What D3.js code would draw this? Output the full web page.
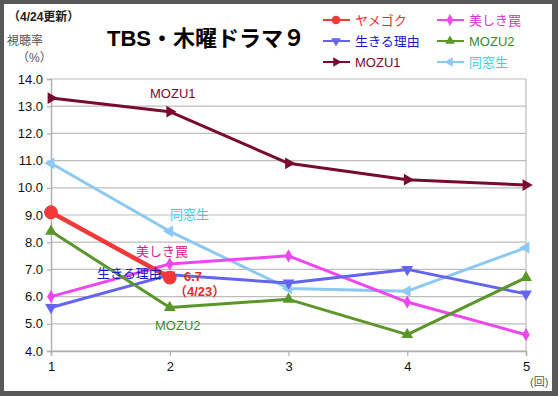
<!DOCTYPE html>
<html><head><meta charset="utf-8">
<script src="https://cdn.jsdelivr.net/npm/d3@7"></script>
<style>
html,body{margin:0;padding:0;background:#fff;}
svg{display:block;}
</style></head>
<body>
<svg id="c" width="558" height="396"></svg>
<script>
const episodes = [1, 2, 3, 4, 5];
const yTicks = [4, 5, 6, 7, 8, 9, 10, 11, 12, 13, 14];
const seriesNames = ["ヤメゴク", "美しき罠", "生きる理由", "MOZU2", "MOZU1", "同窓生"];
const yamegoku = [9.1, 6.7];
const utsukushiki = [6.0, 7.2, 7.5, 5.8, 4.6];
const ikiru = [5.6, 6.8, 6.5, 7.0, 6.1];
const mozu2 = [8.4, 5.6, 5.9, 4.6, 6.7];
const mozu1 = [13.3, 12.8, 10.9, 10.3, 10.1];
const dousousei = [10.9, 8.4, 6.3, 6.2, 7.8];
const seriesValues = [yamegoku, utsukushiki, ikiru, mozu2, mozu1, dousousei];

const colors = ["#f03a3a", "#f046ee", "#6464ee", "#5a962a", "#7a0a2e", "#8cc8f0"];
const textColors = ["#e82a2a", "#e030c8", "#1818c8", "#3c8c28", "#7a0a2e", "#30d0e8"];
const markers = ["circle", "diamond", "down", "up", "right", "left"];
const widths = [4.5, 3, 3, 3, 3, 3];

const svg = d3.select("#c");
const JP = "'Liberation Sans', Arial, 'Noto Sans CJK JP', sans-serif";

// frame
svg.append("rect").attr("x", 0).attr("y", 0).attr("width", 558).attr("height", 396).attr("fill", "#585858");
svg.append("rect").attr("x", 4).attr("y", 4).attr("width", 548).attr("height", 387).attr("fill", "#ffffff");

const x = d3.scaleLinear().domain([1, 5]).range([51, 526]);
const y = d3.scaleLinear().domain([4, 14]).range([351, 79]);

// grid
const g = svg.append("g");
g.selectAll("line.grid").data(yTicks).enter().append("line")
  .attr("x1", x(1)).attr("x2", x(5))
  .attr("y1", d => y(d)).attr("y2", d => y(d))
  .attr("stroke", "#bdbdbd").attr("stroke-width", 1.2);
g.append("line").attr("x1", x(5)).attr("x2", x(5)).attr("y1", y(14)).attr("y2", y(4))
  .attr("stroke", "#bdbdbd").attr("stroke-width", 1.2);

// axes
const yAxis = d3.axisLeft(y).tickValues(yTicks).tickFormat(d3.format(".1f")).tickSize(4).tickPadding(4);
const ya = svg.append("g").attr("transform", `translate(${x(1)},0)`).call(yAxis);
const xAxis = d3.axisBottom(x).tickValues(episodes).tickFormat(d3.format("d")).tickSize(5).tickPadding(6);
const xa = svg.append("g").attr("transform", `translate(0,${y(4)})`).call(xAxis);
[ya, xa].forEach(a => {
  a.select(".domain").attr("stroke", "#b0b0b0").attr("stroke-width", 1.5);
  a.selectAll(".tick line").attr("stroke", "#b0b0b0").attr("stroke-width", 1.2);
  a.selectAll(".tick text").attr("fill", "#111").style("font-family", JP).style("font-size", "13px");
});

// symbols
function sym(type, size) {
  if (type === "circle") return d3.symbol().type(d3.symbolCircle).size(size)();
  if (type === "diamond") return d3.symbol().type(d3.symbolDiamond).size(size)();
  return d3.symbol().type(d3.symbolTriangle).size(size)();
}
const rot = {up: 0, down: 180, right: 90, left: -90, circle: 0, diamond: 0};

const line = d3.line().x((d, i) => x(episodes[i])).y(d => y(d));
const order = [4, 5, 1, 2, 3, 0];
order.forEach(si => {
  const vals = seriesValues[si];
  const sg = svg.append("g");
  sg.append("path").attr("d", line(vals)).attr("fill", "none")
    .attr("stroke", colors[si]).attr("stroke-width", widths[si]).attr("stroke-linejoin", "round");
  sg.selectAll("path.m").data(vals).enter().append("path")
    .attr("d", sym(markers[si], markers[si] === "circle" ? 150 : (markers[si] === "diamond" ? 50 : 60)))
    .attr("transform", (d, i) => `translate(${x(episodes[i])},${y(d)}) rotate(${rot[markers[si]]})`)
    .attr("fill", colors[si]);
});

// title and labels
svg.append("text").attr("x", 8).attr("y", 21).text("（4/24更新）")
  .style("font-family", JP).style("font-size", "12px").style("font-weight", "bold").attr("fill", "#222");
svg.append("text").attr("x", 107).attr("y", 46).text("TBS・木曜ドラマ９")
  .style("font-family", JP).style("font-size", "22px").style("font-weight", "bold").attr("fill", "#000");
svg.append("text").attr("x", 7).attr("y", 45).text("視聴率")
  .style("font-family", JP).style("font-size", "12px").attr("fill", "#555");
svg.append("text").attr("x", 17).attr("y", 62).text("（%）")
  .style("font-family", JP).style("font-size", "12px").attr("fill", "#555");
svg.append("text").attr("x", 530).attr("y", 386).text("(回)")
  .style("font-family", JP).style("font-size", "11px").attr("fill", "#555");

// legend
const legX = [323, 437], legY = [20, 41, 62];
seriesNames.forEach((n, i) => {
  const cx = legX[i % 2], cy = legY[Math.floor(i / 2)];
  const lg = svg.append("g");
  lg.append("line").attr("x1", cx).attr("x2", cx + 27).attr("y1", cy).attr("y2", cy)
    .attr("stroke", colors[i]).attr("stroke-width", 2);
  lg.append("path").attr("d", sym(markers[i], markers[i] === "circle" ? 60 : 40))
    .attr("transform", `translate(${cx + 13},${cy}) rotate(${rot[markers[i]]})`).attr("fill", colors[i]);
  lg.append("text").attr("x", cx + 32).attr("y", cy + 5).text(n)
    .style("font-family", JP).style("font-size", "13px").attr("fill", textColors[i]);
});

// annotations
const ann = [
  {t: "MOZU1", x: 150, y: 98, c: "#7a0a2e"},
  {t: "同窓生", x: 170, y: 219, c: "#30d0e8"},
  {t: "美しき罠", x: 136, y: 256, c: "#d8208a"},
  {t: "生きる理由", x: 97, y: 278, c: "#1818c8"},
  {t: "MOZU2", x: 155, y: 330, c: "#3c8c28"},
  {t: "6.7", x: 184, y: 281, c: "#e82a2a", b: true},
  {t: "（4/23）", x: 174, y: 296, c: "#e82a2a", b: true}
];
ann.forEach(a => {
  svg.append("text").attr("x", a.x).attr("y", a.y).text(a.t)
    .style("font-family", JP).style("font-size", "13px")
    .style("font-weight", a.b ? "bold" : "normal").attr("fill", a.c);
});
</script>
</body></html>
